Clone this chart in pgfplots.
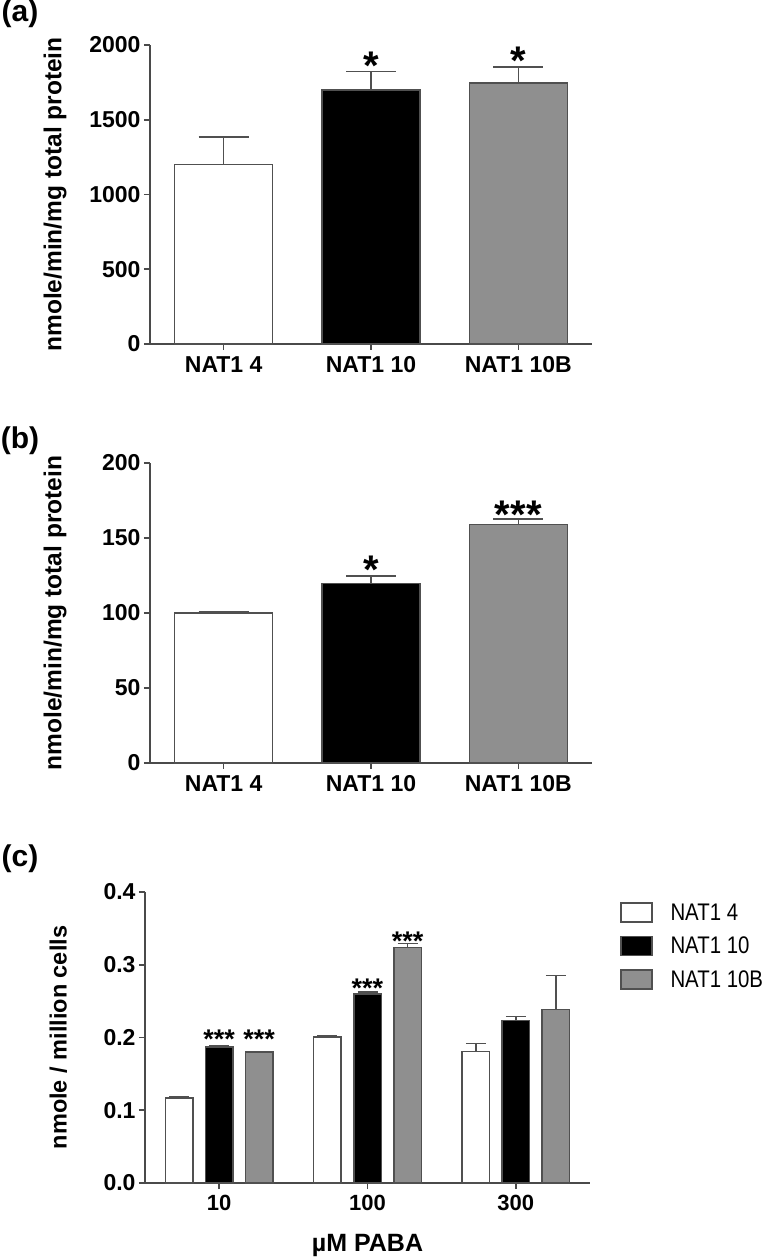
\documentclass[border=0pt]{standalone}
\usepackage{fontspec}
\setmainfont{Liberation Sans}
\newfontfamily\narrowfont[FakeStretch=0.85]{Liberation Sans}
\usepackage{pgfplots}
\pgfplotsset{compat=1.18}
\definecolor{axgray}{HTML}{4A4A4A}
\definecolor{bargray}{HTML}{8F8F8F}
\definecolor{edgegray}{HTML}{505050}
\pgfplotsset{
  gp/.style={
    scale only axis,
    axis lines=left,
    axis line style={-, draw=axgray, line width=1.6bp},
    tick style={draw=axgray, line width=1.6bp},
    tick align=outside,
    major tick length=6bp,
    xmin=-0.5, xmax=2.5, ymin=0,
    xtick={0,1,2},
    clip=false,
    /pgf/number format/assume math mode=true,
    /pgf/number format/1000 sep={},
    yticklabel style={font=\fontsize{23bp}{26bp}\selectfont\bfseries},
    xticklabel style={font=\fontsize{23bp}{26bp}\selectfont\bfseries, yshift=-3bp},
    ylabel style={font=\fontsize{24.5bp}{28bp}\selectfont\bfseries, rotate=0},
  },
  gpbar/.style 2 args={
    ybar, bar width=#1, bar shift=0pt, draw=edgegray, line width=1.5bp,
    /pgfplots/error bars/y dir=plus,
    /pgfplots/error bars/y explicit,
    /pgfplots/error bars/error bar style={draw=edgegray, line width=1.5bp},
    /pgfplots/error bars/error mark options={rotate=90, draw=edgegray, line width=1.5bp, mark size=#2},
  },
  sqlegend/.style={legend image code/.code={\draw[##1, line width=1.5bp] (0bp,-9bp) rectangle (31bp,10bp); \path (49bp,0bp);}},
  stars/.style={draw=none, forget plot, nodes near coords, point meta=explicit symbolic,
    nodes near coords style={anchor=north, inner sep=0pt, font=#1}},
}
\begin{document}
\begin{tikzpicture}
\path[use as bounding box] (0,0) rectangle (777bp,1259bp);
\node[font=\fontsize{30bp}{32bp}\selectfont\bfseries] at (20bp,1245bp) {(a)};
\node[font=\fontsize{30bp}{32bp}\selectfont\bfseries] at (20bp,818bp) {(b)};
\node[font=\fontsize{30bp}{32bp}\selectfont\bfseries] at (20bp,400bp) {(c)};

% ---------------- (a)
\begin{axis}[gp, at={(150bp,915bp)}, anchor=south west, width=442bp, height=299bp,
  ymax=2000, ytick={0,500,1000,1500,2000},
  xticklabels={NAT1 4,NAT1 10,NAT1 10B},
  ylabel={nmole/min/mg total protein},
  ylabel style={at={(axis description cs:-0.215,0.5)}, anchor=center, rotate=0}]
\addplot[fill=white, gpbar={98bp}{25bp}] coordinates {(0,1200) +- (0,185)};
\addplot[fill=black, gpbar={98bp}{25bp}] coordinates {(1,1700) +- (0,122)};
\addplot[fill=bargray, gpbar={98bp}{25bp}] coordinates {(2,1745) +- (0,108)};
\addplot[stars={\fontsize{40bp}{40bp}\selectfont\bfseries}] table[meta=s] {
x y s
1 1953 *
2 1987 *
};
\end{axis}

% ---------------- (b)
\begin{axis}[gp, at={(150bp,496bp)}, anchor=south west, width=442bp, height=300bp,
  ymax=200, ytick={0,50,100,150,200},
  xticklabels={NAT1 4,NAT1 10,NAT1 10B},
  ylabel={nmole/min/mg total protein},
  ylabel style={at={(axis description cs:-0.215,0.5)}, anchor=center, rotate=0}]
\addplot[fill=white, gpbar={98bp}{25bp}] coordinates {(0,100) +- (0,0.8)};
\addplot[fill=black, gpbar={98bp}{25bp}] coordinates {(1,119.5) +- (0,5)};
\addplot[fill=bargray, gpbar={98bp}{25bp}] coordinates {(2,159) +- (0,3.5)};
\addplot[stars={\fontsize{40bp}{40bp}\selectfont\bfseries}] table[meta=s] {
x y s
1 138 *
2 175 ***
};
\end{axis}

% ---------------- (c)
\begin{axis}[gp, at={(145bp,76bp)}, anchor=south west, width=445bp, height=291bp,
  ymax=0.4, ytick={0,0.1,0.2,0.3,0.4},
  yticklabel style={/pgf/number format/.cd, fixed, fixed zerofill, precision=1},
  xticklabels={10,100,300},
  xticklabel style={font=\fontsize{22bp}{26bp}\selectfont\bfseries},
  ylabel={nmole / million cells},
  ylabel style={at={(axis description cs:-0.195,0.5)}, anchor=center, rotate=0,
    font=\fontsize{23.5bp}{28bp}\selectfont\bfseries},
  xlabel={\textmu M PABA},
  xlabel style={at={(axis description cs:0.5,-0.237)}, anchor=base, font=\fontsize{25bp}{28bp}\selectfont\bfseries},
  legend style={at={(axis description cs:1.067,0.966)}, anchor=north west, draw=none, fill=none,
    inner sep=0pt, row sep=13bp, column sep=0pt, nodes={inner sep=0pt},
    font=\narrowfont\fontsize{24bp}{26bp}\selectfont},
  legend cell align=left]
\addplot[fill=white, gpbar={27.5bp}{10bp}, sqlegend] table[y error=e] {
x y e
-0.27 0.1165 0.0015
0.73 0.2007 0.0013
1.73 0.1805 0.0110
};
\addlegendentry{NAT1 4}
\addplot[fill=black, gpbar={27.5bp}{10bp}, sqlegend] table[y error=e] {
x y e
0 0.1868 0.0018
1 0.2598 0.0025
2 0.2235 0.0055
};
\addlegendentry{NAT1 10}
\addplot[fill=bargray, gpbar={27.5bp}{10bp}, sqlegend] table[y error=e] {
x y e
0.27 0.1800 0.0005
1.27 0.3234 0.0056
2.27 0.2383 0.0466
};
\addlegendentry{NAT1 10B}
\addplot[stars={\fontsize{27bp}{27bp}\selectfont\bfseries}] table[meta=s] {
x y s
0 0.2100 ***
0.27 0.2100 ***
1 0.2810 ***
1.27 0.3460 ***
};
\end{axis}
\end{tikzpicture}
\end{document}
